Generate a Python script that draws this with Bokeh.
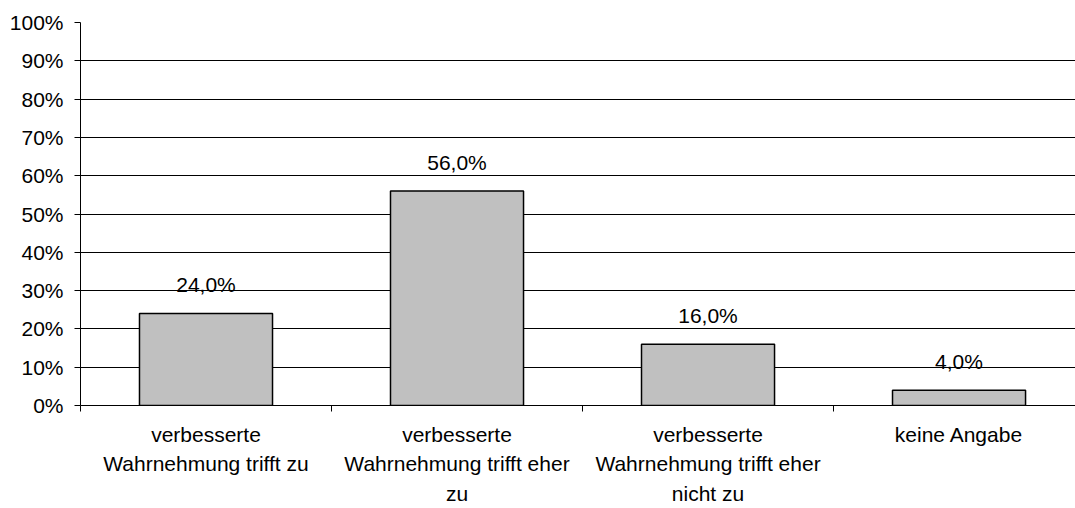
from bokeh.plotting import figure
from bokeh.models import Range1d, FixedTicker, PrintfTickFormatter, ColumnDataSource
from bokeh.embed import file_html
from bokeh.resources import INLINE
from bokeh.core.properties import value

categories = [
    "verbesserte\nWahrnehmung trifft zu",
    "verbesserte\nWahrnehmung trifft eher\nzu",
    "verbesserte\nWahrnehmung trifft eher\nnicht zu",
    "keine Angabe",
]
percent = [24.0, 56.0, 16.0, 4.0]
y_ticks = [0, 10, 20, 30, 40, 50, 60, 70, 80, 90, 100]

FONT = "Liberation Sans"

xpos = [i + 0.5 for i in range(len(categories))]
labels = [f"{v:.1f}".replace(".", ",") + "%" for v in percent]
src = ColumnDataSource(dict(x=xpos, top=percent, label=labels))

p = figure(width=1075, height=508, output_backend="svg", toolbar_location=None,
           x_range=Range1d(0, 3.964), y_range=Range1d(0, 100))
p.min_border_left = 80
p.min_border_right = 0
p.min_border_top = 22
p.min_border_bottom = 102
p.outline_line_color = None
p.background_fill_color = "white"
p.border_fill_color = "white"

p.vbar(x="x", top="top", width=0.53, bottom=0, source=src,
       fill_color="#c0c0c0", line_color="black", line_width=1.5)
p.text(x="x", y="top", text="label", source=src, text_align="center",
       text_baseline="alphabetic", y_offset=-29, text_font=value(FONT),
       text_font_size="21px", text_color="black")

# y axis
p.yaxis.ticker = FixedTicker(ticks=y_ticks)
p.yaxis.formatter = PrintfTickFormatter(format="%d%%")
p.yaxis.major_label_text_font = FONT
p.yaxis.major_label_text_font_size = "21px"
p.yaxis.major_label_text_color = "black"
p.yaxis.major_tick_out = 6
p.yaxis.major_tick_in = 0
p.yaxis.minor_tick_line_color = None
p.yaxis.major_label_standoff = 11
p.yaxis.axis_line_color = "black"
p.yaxis.major_tick_line_color = "black"

# x axis
p.xaxis.ticker = FixedTicker(ticks=xpos, minor_ticks=[0, 1, 2, 3])
p.xaxis.major_label_overrides = {x: c for x, c in zip(xpos, categories)}
p.xaxis.major_label_text_font = FONT
p.xaxis.major_label_text_font_size = "21px"
p.xaxis.major_label_text_color = "black"
p.xaxis.major_label_text_line_height = 1.3
p.xaxis.major_tick_line_color = None
p.xaxis.major_tick_out = 0
p.xaxis.major_tick_in = 0
p.xaxis.minor_tick_out = 6
p.xaxis.minor_tick_in = 0
p.xaxis.minor_tick_line_color = "black"
p.xaxis.major_label_standoff = 11
p.xaxis.axis_line_color = "black"

p.xgrid.grid_line_color = None
p.ygrid.ticker = FixedTicker(ticks=y_ticks)
p.ygrid.grid_line_color = "black"
p.ygrid.grid_line_width = 1

open("out.html", "w").write(file_html(p, INLINE))
